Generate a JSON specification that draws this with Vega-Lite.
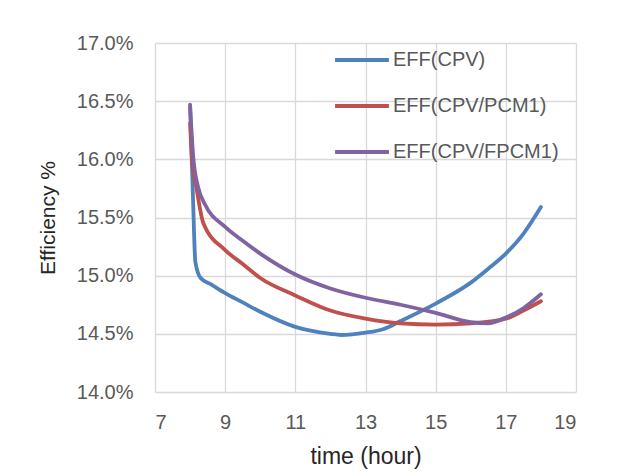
{
  "$schema": "https://vega.github.io/schema/vega-lite/v6.json",
  "autosize": "none",
  "width": 421,
  "height": 349,
  "padding": {"left": 155, "top": 43, "right": 47, "bottom": 80},
  "background": "white",
  "config": {
    "font": "Liberation Sans",
    "view": {"stroke": null},
    "axis": {"gridColor": "#D9D9D9", "gridWidth": 1.3, "domain": false, "ticks": false, "labelColor": "#595959", "labelFont": "Liberation Sans", "labelFontSize": 20, "titleFont": "Liberation Sans", "titleFontWeight": "normal", "titleColor": "#262626"}
  },
  "data": {"values": [
    {"t": 8, "eff": 16.45, "s": "EFF(CPV)"},
    {"t": 8.08, "eff": 15.7, "s": "EFF(CPV)"},
    {"t": 8.15, "eff": 15.12, "s": "EFF(CPV)"},
    {"t": 8.3, "eff": 14.98, "s": "EFF(CPV)"},
    {"t": 8.6, "eff": 14.925, "s": "EFF(CPV)"},
    {"t": 9, "eff": 14.85, "s": "EFF(CPV)"},
    {"t": 9.5, "eff": 14.77, "s": "EFF(CPV)"},
    {"t": 10, "eff": 14.69, "s": "EFF(CPV)"},
    {"t": 11, "eff": 14.56, "s": "EFF(CPV)"},
    {"t": 12, "eff": 14.5, "s": "EFF(CPV)"},
    {"t": 12.3, "eff": 14.49, "s": "EFF(CPV)"},
    {"t": 13, "eff": 14.51, "s": "EFF(CPV)"},
    {"t": 13.5, "eff": 14.54, "s": "EFF(CPV)"},
    {"t": 14, "eff": 14.61, "s": "EFF(CPV)"},
    {"t": 15, "eff": 14.76, "s": "EFF(CPV)"},
    {"t": 16, "eff": 14.94, "s": "EFF(CPV)"},
    {"t": 16.5, "eff": 15.06, "s": "EFF(CPV)"},
    {"t": 17, "eff": 15.19, "s": "EFF(CPV)"},
    {"t": 17.5, "eff": 15.36, "s": "EFF(CPV)"},
    {"t": 18, "eff": 15.59, "s": "EFF(CPV)"},
    {"t": 8, "eff": 16.31, "s": "EFF(CPV/PCM1)"},
    {"t": 8.05, "eff": 16.02, "s": "EFF(CPV/PCM1)"},
    {"t": 8.19, "eff": 15.74, "s": "EFF(CPV/PCM1)"},
    {"t": 8.38, "eff": 15.45, "s": "EFF(CPV/PCM1)"},
    {"t": 9, "eff": 15.22, "s": "EFF(CPV/PCM1)"},
    {"t": 9.5, "eff": 15.1, "s": "EFF(CPV/PCM1)"},
    {"t": 10, "eff": 14.98, "s": "EFF(CPV/PCM1)"},
    {"t": 11, "eff": 14.83, "s": "EFF(CPV/PCM1)"},
    {"t": 12, "eff": 14.7, "s": "EFF(CPV/PCM1)"},
    {"t": 13, "eff": 14.63, "s": "EFF(CPV/PCM1)"},
    {"t": 14, "eff": 14.59, "s": "EFF(CPV/PCM1)"},
    {"t": 15, "eff": 14.58, "s": "EFF(CPV/PCM1)"},
    {"t": 16, "eff": 14.59, "s": "EFF(CPV/PCM1)"},
    {"t": 17, "eff": 14.63, "s": "EFF(CPV/PCM1)"},
    {"t": 17.5, "eff": 14.7, "s": "EFF(CPV/PCM1)"},
    {"t": 18, "eff": 14.78, "s": "EFF(CPV/PCM1)"},
    {"t": 8, "eff": 16.47, "s": "EFF(CPV/FPCM1)"},
    {"t": 8.09, "eff": 16.02, "s": "EFF(CPV/FPCM1)"},
    {"t": 8.23, "eff": 15.76, "s": "EFF(CPV/FPCM1)"},
    {"t": 8.43, "eff": 15.61, "s": "EFF(CPV/FPCM1)"},
    {"t": 9, "eff": 15.42, "s": "EFF(CPV/FPCM1)"},
    {"t": 9.5, "eff": 15.3, "s": "EFF(CPV/FPCM1)"},
    {"t": 10, "eff": 15.19, "s": "EFF(CPV/FPCM1)"},
    {"t": 11, "eff": 15.01, "s": "EFF(CPV/FPCM1)"},
    {"t": 12, "eff": 14.89, "s": "EFF(CPV/FPCM1)"},
    {"t": 13, "eff": 14.81, "s": "EFF(CPV/FPCM1)"},
    {"t": 14, "eff": 14.75, "s": "EFF(CPV/FPCM1)"},
    {"t": 15, "eff": 14.68, "s": "EFF(CPV/FPCM1)"},
    {"t": 16, "eff": 14.6, "s": "EFF(CPV/FPCM1)"},
    {"t": 16.5, "eff": 14.59, "s": "EFF(CPV/FPCM1)"},
    {"t": 17, "eff": 14.64, "s": "EFF(CPV/FPCM1)"},
    {"t": 17.5, "eff": 14.72, "s": "EFF(CPV/FPCM1)"},
    {"t": 18, "eff": 14.84, "s": "EFF(CPV/FPCM1)"}
  ]},
  "mark": {"type": "line", "interpolate": "monotone", "strokeWidth": 3.8, "strokeCap": "round"},
  "encoding": {
    "x": {"field": "t", "type": "quantitative", "scale": {"domain": [7, 19], "nice": false}, "axis": {"values": [7, 9, 11, 13, 15, 17, 19], "title": "time (hour)", "titleFontSize": 23, "labelPadding": 20, "titlePadding": 13}},
    "y": {"field": "eff", "type": "quantitative", "scale": {"domain": [14, 17], "nice": false, "zero": false}, "axis": {"values": [14, 14.5, 15, 15.5, 16, 16.5, 17], "labelExpr": "format(datum.value, '.1f') + '%'", "title": "Efficiency %", "titleFontSize": 21, "labelPadding": 22, "titlePadding": 18}},
    "color": {"field": "s", "type": "nominal", "sort": null, "scale": {"domain": ["EFF(CPV)", "EFF(CPV/PCM1)", "EFF(CPV/FPCM1)"], "range": ["#4F81BD", "#C0504D", "#8064A2"]},
      "legend": {"title": null, "orient": "none", "legendX": 178, "legendY": -12, "symbolType": "stroke", "symbolSize": 2900, "symbolStrokeWidth": 4, "labelFontSize": 20, "labelColor": "#595959", "labelFont": "Liberation Sans", "labelLimit": 0, "rowPadding": 7, "labelOffset": 2}}
  }
}
